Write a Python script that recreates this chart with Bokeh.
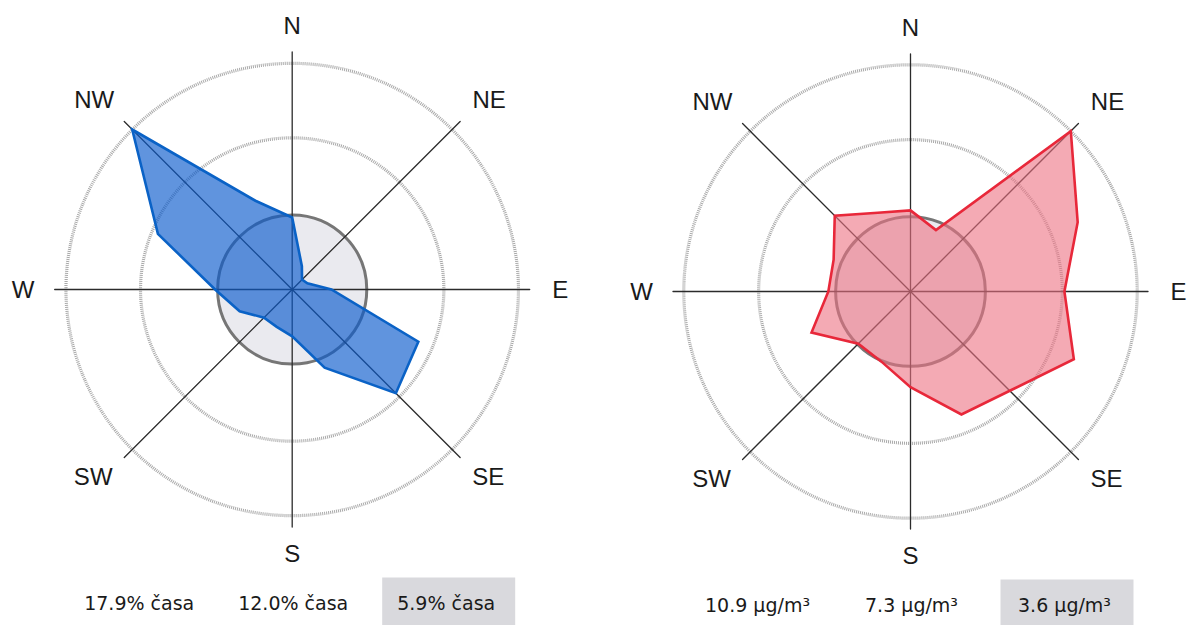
import numpy as np
from bokeh.plotting import figure
from bokeh.layouts import row
from bokeh.models import Range1d
from bokeh.core.properties import value
from bokeh.embed import file_html
from bokeh.resources import INLINE

# ---------------- data ----------------
directions = ["N", "NNE", "NE", "ENE", "E", "ESE", "SE", "SSE",
              "S", "SSW", "SW", "WSW", "W", "WNW", "NW", "NNW"]
compass_labels = ["N", "NE", "E", "SE", "S", "SW", "W", "NW"]

# share of time (%) wind blew from each direction
time_share = [5.7, 2.0, 1.1, 1.3, 3.1, 10.8, 11.6, 6.7,
              3.7, 3.2, 3.15, 4.5, 6.1, 11.5, 17.9, 7.6]
time_rings = [17.9, 12.0, 5.9]
time_ring_labels = ["17.9% časa", "12.0% časa", "5.9% časa"]

# mean concentration (µg/m³) per direction
concentration = [3.9, 3.2, 10.9, 8.7, 7.4, 8.5, 6.75, 6.4,
                 4.6, 3.65, 3.55, 5.15, 3.95, 4.0, 5.15, 4.1]
conc_rings = [10.9, 7.3, 3.6]
conc_ring_labels = ["10.9 μg/m³", "7.3 μg/m³", "3.6 μg/m³"]

# ---------------- layout constants (pixels) ----------------
H = 625
SPOKE_PX = 237.5
LABEL_OFFSETS = [(0, 264), (197, 190), (268, 0), (196, -187),
                 (0, -264), (-199, -187), (-269, 0), (-198, 190)]
RING_TEXT_X = [-153, 1, 154]
RING_TEXT_Y = -313
BOX = (90, 223, -288)


def make_rose(values, rings, ring_labels, scale, cx, cy, width,
              fill, edge, fill_alpha):
    u = 1.0 / scale  # data units per pixel
    p = figure(width=width, height=H,
               x_range=Range1d(-cx * u, (width - cx) * u),
               y_range=Range1d(-(H - cy) * u, cy * u),
               output_backend="svg", toolbar_location=None,
               x_axis_location=None, y_axis_location=None,
               min_border=0, outline_line_color=None)
    p.grid.visible = False
    p.background_fill_color = "white"
    p.border_fill_color = "white"

    # inner filled ring
    p.circle(x=0, y=0, radius=rings[2], fill_color="#eaeaef",
             line_color="#767676", line_width=3)
    # middle and outer rings
    p.circle(x=[0, 0], y=[0, 0], radius=rings[:2], fill_color=None,
             line_color="#a9a9a9", line_width=3.2, line_dash="1 1")

    # spokes
    ang = np.deg2rad(np.arange(8) * 45.0)
    L = SPOKE_PX * u
    p.segment(x0=0, y0=0, x1=L * np.sin(ang), y1=L * np.cos(ang),
              line_color="#2b2b2b", line_width=1.3, line_cap="round")

    # rose polygon
    th = np.deg2rad(np.arange(len(values)) * 360.0 / len(values))
    r = np.asarray(values)
    p.patch(r * np.sin(th), r * np.cos(th), fill_color=fill,
            fill_alpha=fill_alpha, line_color=edge, line_width=2.6,
            line_join="miter")

    # compass labels
    lx = [o[0] * u for o in LABEL_OFFSETS]
    ly = [o[1] * u for o in LABEL_OFFSETS]
    p.text(x=lx, y=ly, text=compass_labels,
           text_font=value("Liberation Sans"), text_font_size="24px",
           text_color="#1a1a1a", text_align="center",
           text_baseline="middle")

    # legend box for the inner ring
    p.quad(left=BOX[0] * u, right=BOX[1] * u, top=BOX[2] * u,
           bottom=-(H - cy + 5) * u, fill_color="#d9d9dd", line_color=None)
    p.text(x=[v * u for v in RING_TEXT_X], y=[RING_TEXT_Y * u] * 3,
           text=ring_labels, text_font=value("DejaVu Sans"),
           text_font_size="19px", text_color="#1a1a1a",
           text_align="center", text_baseline="middle")
    return p


left = make_rose(time_share, time_rings, time_ring_labels,
                 scale=12.64, cx=291.7, cy=289, width=600,
                 fill="#0b5bcd", edge="#0a62c6", fill_alpha=0.65)
right = make_rose(concentration, conc_rings, conc_ring_labels,
                  scale=20.8, cx=310, cy=291, width=589,
                  fill="#ed7182", edge="#e8283a", fill_alpha=0.6)

layout = row(left, right, spacing=0)
open("out.html", "w").write(file_html(layout, INLINE))
